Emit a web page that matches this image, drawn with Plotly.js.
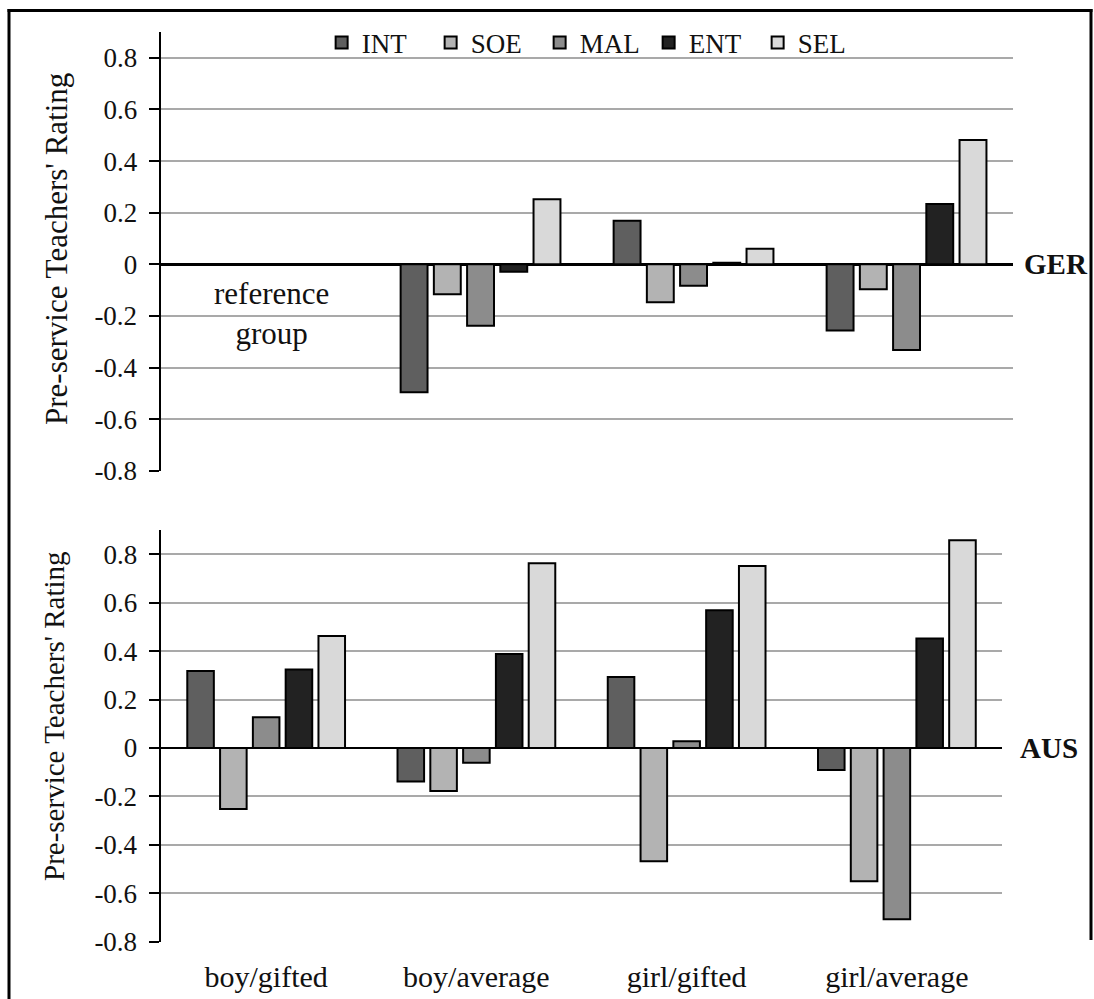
<!DOCTYPE html>
<html>
<head>
<meta charset="utf-8">
<script src="https://cdn.plot.ly/plotly-3.0.1.min.js"></script>
<style>html,body{margin:0;padding:0;background:#fff;}#chart{width:1094px;height:999px;}</style>
</head>
<body>
<div id="chart"></div>
<script>
// ---- data ----
const categories = ['boy/gifted', 'boy/average', 'girl/gifted', 'girl/average'];
const seriesNames = ['INT', 'SOE', 'MAL', 'ENT', 'SEL'];
// GER (boy/gifted is the reference group: no bars)
const gerINT = [null, -0.496, 0.169, -0.257];
const gerSOE = [null, -0.116, -0.147, -0.097];
const gerMAL = [null, -0.238, -0.083, -0.332];
const gerENT = [null, -0.029, 0.006, 0.234];
const gerSEL = [null, 0.252, 0.060, 0.482];
// AUS
const ausINT = [0.318, -0.139, 0.293, -0.091];
const ausSOE = [-0.252, -0.178, -0.468, -0.550];
const ausMAL = [0.127, -0.061, 0.028, -0.707];
const ausENT = [0.324, 0.388, 0.569, 0.452];
const ausSEL = [0.462, 0.763, 0.752, 0.858];
const yTickVals = [-0.8, -0.6, -0.4, -0.2, 0, 0.2, 0.4, 0.6, 0.8];
const yTickText = ['-0.8', '-0.6', '-0.4', '-0.2', '0', '0.2', '0.4', '0.6', '0.8'];
const yTitle = "Pre-service Teachers' Rating";

const fills = ['#5f5f5f', '#b3b3b3', '#8c8c8c', '#222222', '#d9d9d9'];
const FONT = 'Liberation Serif';
const f = (size, extra) => Object.assign({family: FONT, size: size, color: '#111'}, extra || {});

const gerData = [gerINT, gerSOE, gerMAL, gerENT, gerSEL];
const ausData = [ausINT, ausSOE, ausMAL, ausENT, ausSEL];

const traces = [];
seriesNames.forEach((name, i) => {
  traces.push({
    type: 'bar', name: name, x: categories, y: gerData[i],
    xaxis: 'x', yaxis: 'y', legendgroup: name, showlegend: true,
    marker: {color: fills[i], line: {color: '#000', width: 2}},
    hoverinfo: 'skip'
  });
});
seriesNames.forEach((name, i) => {
  traces.push({
    type: 'bar', name: name, x: categories, y: ausData[i],
    xaxis: 'x2', yaxis: 'y2', legendgroup: name, showlegend: false,
    marker: {color: fills[i], line: {color: '#000', width: 2}},
    hoverinfo: 'skip'
  });
});

function yAxis(domain, anchor) {
  return {
    domain: domain, anchor: anchor,
    range: [-0.8, 0.9], tickvals: yTickVals.slice(), ticktext: yTickText.slice(),
    showgrid: true, gridcolor: '#a9a9a9', gridwidth: 2,
    zeroline: true, zerolinecolor: '#000', zerolinewidth: 2.5,
    showline: true, linecolor: '#000', linewidth: 2.5,
    ticks: 'outside', ticklen: 10, tickwidth: 2, tickcolor: '#000',
    ticklabelstandoff: 6,
    tickfont: f(27),
    fixedrange: true
  };
}

const layout = {
  width: 1094, height: 999,
  margin: {l: 0, r: 0, t: 0, b: 0},
  paper_bgcolor: '#fff', plot_bgcolor: '#fff',
  barmode: 'group', bargap: 0.22, bargroupgap: 0.19,
  font: f(20),
  showlegend: true,
  legend: {
    orientation: 'h', x: 0.294, xanchor: 'left', y: 0.957, yanchor: 'middle',
    font: f(27),
    bgcolor: 'rgba(0,0,0,0)', entrywidth: 64, entrywidthmode: 'pixels',
    traceorder: 'normal'
  },
  xaxis: {
    domain: [0.1472, 0.926], anchor: 'y', type: 'category',
    categoryorder: 'array', categoryarray: categories, range: [-0.5, 3.5],
    showticklabels: false, ticks: '', showline: false, showgrid: false, zeroline: false,
    fixedrange: true
  },
  xaxis2: {
    domain: [0.1472, 0.9159], anchor: 'y2', type: 'category',
    categoryorder: 'array', categoryarray: categories, range: [-0.5, 3.5],
    showticklabels: true, ticks: '', showline: false, showgrid: false, zeroline: false,
    ticklabelstandoff: 14,
    tickfont: f(30),
    fixedrange: true
  },
  yaxis: yAxis([0.5288, 0.9679], 'x'),
  yaxis2: yAxis([0.0574, 0.4694], 'x2'),
  annotations: [
    {xref: 'paper', yref: 'paper', x: 56/1094, y: (999-249)/999, text: yTitle, textangle: -90,
     showarrow: false, font: f(31), xanchor: 'center', yanchor: 'middle'},
    {xref: 'paper', yref: 'paper', x: 54/1094, y: (999-716)/999, text: yTitle, textangle: -90,
     showarrow: false, font: f(29), xanchor: 'center', yanchor: 'middle'},
    {xref: 'x', yref: 'y', x: 0, y: -0.19, xshift: 4, text: 'reference<br>group', showarrow: false,
     font: f(31), xanchor: 'center', yanchor: 'middle'},
    {xref: 'paper', yref: 'y', x: 0.9342, y: 0, text: '<b>GER</b>', showarrow: false,
     font: f(29), xanchor: 'left', yanchor: 'middle'},
    {xref: 'paper', yref: 'y2', x: 0.9305, y: 0, text: '<b>AUS</b>', showarrow: false,
     font: f(29), xanchor: 'left', yanchor: 'middle'}
  ],
  shapes: [
    {type: 'line', xref: 'paper', yref: 'paper', x0: 9/1094, x1: 9/1094, y0: 0, y1: (999-9)/999, line: {color: '#000', width: 3}},
    {type: 'line', xref: 'paper', yref: 'paper', x0: 7.5/1094, x1: 1092.5/1094, y0: (999-10.5)/999, y1: (999-10.5)/999, line: {color: '#000', width: 3}},
    {type: 'line', xref: 'paper', yref: 'paper', x0: 1091/1094, x1: 1091/1094, y0: (999-940)/999, y1: (999-9)/999, line: {color: '#000', width: 3}}
  ]
};

Plotly.newPlot('chart', traces, layout, {staticPlot: true, displayModeBar: false}).then(() => {
  // redraw once the serif face is surely loaded so every text uses it
  if (document.fonts && document.fonts.load) {
    Promise.all([
      document.fonts.load('27px "Liberation Serif"'),
      document.fonts.load('bold 29px "Liberation Serif"')
    ]).then(() => Plotly.redraw('chart')).catch(() => {});
  }
});
</script>
</body>
</html>
